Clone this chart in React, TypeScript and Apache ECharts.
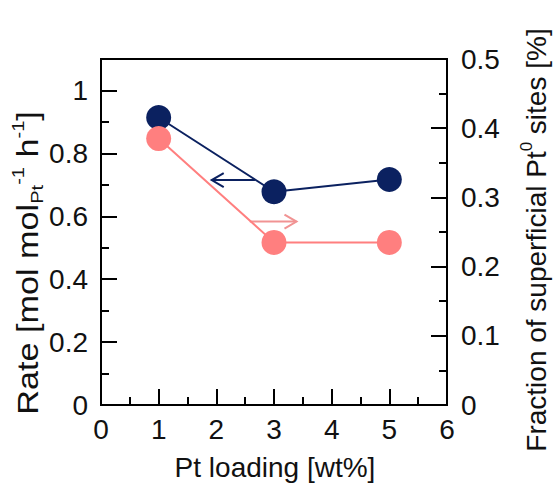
import React, { useEffect, useRef } from "react";
import * as echarts from "echarts";

const loadings = [1, 3, 5];
const rateValues = [0.914, 0.678, 0.717];
const fractionValues = [0.385, 0.235, 0.235];
// arrows: [xStart, yStart, xEnd, yEnd]
const rateArrow = [2.67, 0.715, 1.92, 0.715];
const fractionArrow = [2.58, 0.265, 3.39, 0.265];

const xTitle = "Pt loading [wt%]";
const leftTitle = "Rate [mol mol{sub|Pt}{sup|-1} h{sup|-1}]";
const rightTitle = "Fraction of superficial Pt{sup|0} sites [%]";

const NAVY = "#0b2160";
const PINK = "#ff7f7f";
const PINK_ARROW = "#f19393";
const FONT = "Liberation Sans, Arial, sans-serif";
const TXT = "#111";
const FS = 28;

const arrowRender = (color: string) => (params: any, api: any) => {
  const p0 = api.coord([api.value(0), api.value(1)]);
  const p1 = api.coord([api.value(2), api.value(3)]);
  const dir = Math.sign(p1[0] - p0[0]);
  const head = 12;
  const half = 7;
  return {
    type: "group",
    children: [
      {
        type: "line",
        shape: { x1: p0[0], y1: p0[1], x2: p1[0], y2: p1[1] },
        style: { stroke: color, lineWidth: 2 },
      },
      {
        type: "polyline",
        shape: {
          points: [
            [p1[0] - dir * head, p1[1] - half],
            [p1[0], p1[1]],
            [p1[0] - dir * head, p1[1] + half],
          ],
        },
        style: { stroke: color, lineWidth: 2, fill: "none" },
      },
    ],
  };
};

const richStyles = {
  sup: { fontSize: 17, fontFamily: FONT, fill: TXT, verticalAlign: "top", lineHeight: 36 },
  sub: { fontSize: 17, fontFamily: FONT, fill: TXT, verticalAlign: "bottom", lineHeight: 36 },
};

export default function App() {
  const ref = useRef<HTMLDivElement>(null);
  useEffect(() => {
    if (!ref.current) return;
    const chart = echarts.init(ref.current, null, { renderer: "svg" });
    const axisLine = { show: true, lineStyle: { color: "#000", width: 2 } };
    const labelStyle = { color: TXT, fontSize: FS, fontFamily: FONT };
    chart.setOption({
      animation: false,
      grid: {
        left: 101,
        right: 106,
        top: 59,
        bottom: 78,
        show: true,
        borderColor: "#000",
        borderWidth: 2,
      },
      xAxis: {
        type: "value",
        min: 0,
        max: 6,
        interval: 1,
        axisLine,
        axisTick: { show: true, inside: true, length: 16, lineStyle: { color: "#000", width: 2 } },
        minorTick: { show: true, splitNumber: 2, length: 8, lineStyle: { color: "#000", width: 2 } },
        splitLine: { show: false },
        axisLabel: { ...labelStyle, margin: 10 },
      },
      yAxis: [
        {
          type: "value",
          position: "left",
          min: 0,
          max: 1.1,
          interval: 0.2,
          axisLine,
          axisTick: { show: true, inside: true, length: 16, lineStyle: { color: "#000", width: 2 } },
          splitLine: { show: false },
          axisLabel: {
            ...labelStyle,
            margin: 13,
            formatter: (v: number) => (v > 1.05 ? "" : String(+v.toFixed(1))),
          },
        },
        {
          type: "value",
          position: "left",
          min: 0,
          max: 1.1,
          interval: 0.1,
          axisLine: { show: false },
          axisTick: { show: true, inside: true, length: 8, lineStyle: { color: "#000", width: 2 } },
          splitLine: { show: false },
          axisLabel: { show: false },
        },
        {
          type: "value",
          position: "right",
          min: 0,
          max: 0.5,
          interval: 0.1,
          axisLine,
          axisTick: { show: true, inside: true, length: 16, lineStyle: { color: "#000", width: 2 } },
          minorTick: { show: true, splitNumber: 2, length: 8, lineStyle: { color: "#000", width: 2 } },
          splitLine: { show: false },
          axisLabel: {
            ...labelStyle,
            margin: 14,
            formatter: (v: number) => String(+v.toFixed(1)),
          },
        },
      ],
      series: [
        {
          type: "line",
          yAxisIndex: 0,
          data: loadings.map((x, i) => [x, rateValues[i]]),
          symbol: "circle",
          symbolSize: 25,
          lineStyle: { color: NAVY, width: 2 },
          itemStyle: { color: NAVY },
          z: 3,
        },
        {
          type: "line",
          yAxisIndex: 2,
          data: loadings.map((x, i) => [x, fractionValues[i]]),
          symbol: "circle",
          symbolSize: 25,
          lineStyle: { color: PINK, width: 2 },
          itemStyle: { color: PINK },
          z: 3,
        },
        {
          type: "custom",
          yAxisIndex: 0,
          data: [rateArrow],
          encode: { x: [0, 2], y: [1, 3] },
          renderItem: arrowRender(NAVY),
          z: 2,
        },
        {
          type: "custom",
          yAxisIndex: 2,
          data: [fractionArrow],
          encode: { x: [0, 2], y: [1, 3] },
          renderItem: arrowRender(PINK_ARROW),
          z: 2,
        },
      ],
      graphic: [
        {
          type: "text",
          x: 275,
          y: 467,
          style: {
            text: xTitle,
            fontSize: FS,
            fontFamily: FONT,
            fill: TXT,
            align: "center",
            verticalAlign: "middle",
          },
        },
        {
          type: "text",
          x: 28,
          y: 263,
          rotation: Math.PI / 2,
          scaleX: 1.18,
          style: {
            text: leftTitle,
            fontSize: 29,
            fontFamily: FONT,
            fill: TXT,
            align: "center",
            verticalAlign: "middle",
            lineHeight: 36,
            rich: richStyles,
          },
        },
        {
          type: "text",
          x: 536,
          y: 240,
          rotation: Math.PI / 2,
          style: {
            text: rightTitle,
            fontSize: FS,
            fontFamily: FONT,
            fill: TXT,
            align: "center",
            verticalAlign: "middle",
            lineHeight: 36,
            rich: richStyles,
          },
        },
      ],
    });
    return () => chart.dispose();
  }, []);
  return (
    <div
      ref={ref}
      style={{ position: "absolute", left: 0, top: 0, width: 553, height: 483 }}
    />
  );
}
